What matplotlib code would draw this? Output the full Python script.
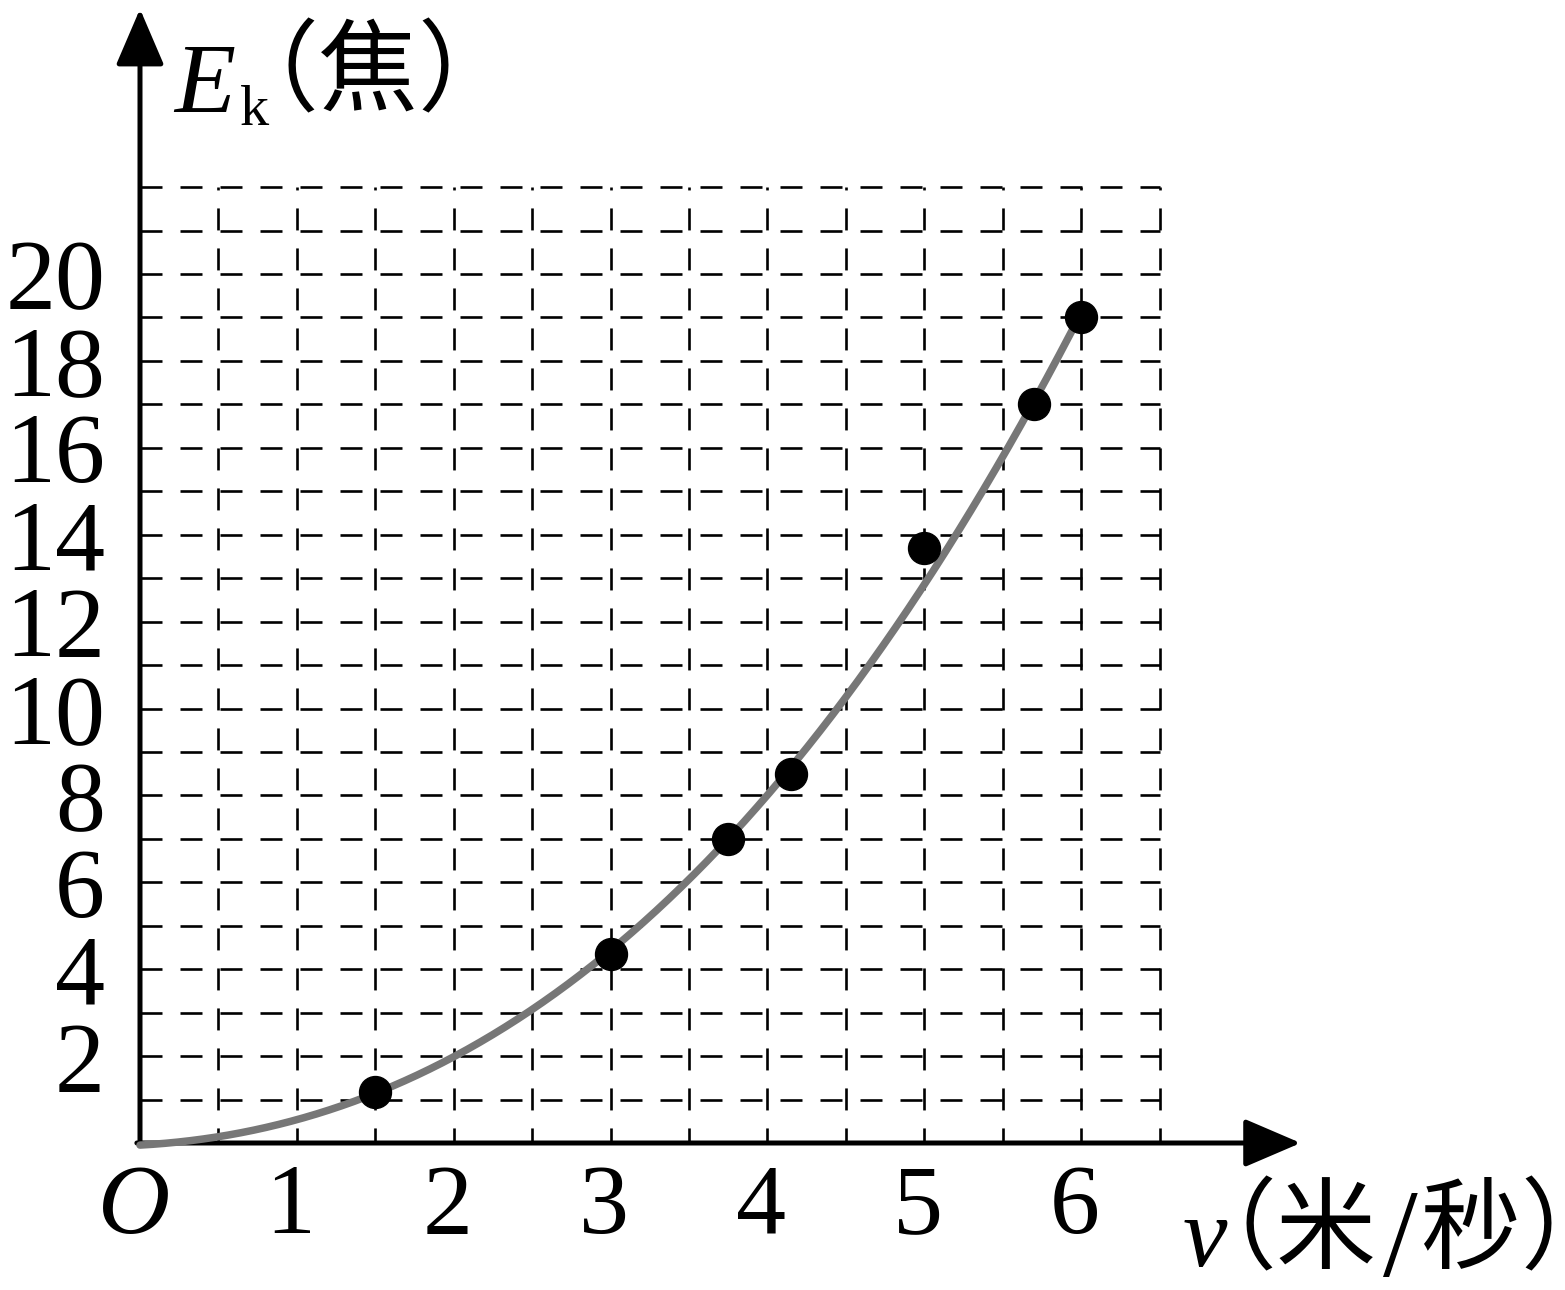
import numpy as np
import matplotlib
matplotlib.use("Agg")
import matplotlib.pyplot as plt

plt.rcParams['lines.scale_dashes'] = False

# ---- data ----
v_pts = [1.5, 3.0, 3.75, 4.15, 5.0, 5.7, 6.0]
ek_pts = [1.18, 4.35, 7.0, 8.5, 13.7, 17.0, 19.0]

# fitted curve
v_curve = [0, 0.5, 1.0, 1.5, 2.0, 2.5, 3.0, 3.5, 4.0, 4.5, 5.0, 5.5, 6.0]
ek_curve = [0, 0.1, 0.42, 1.17, 2.1, 3.2, 4.4, 5.95, 7.9, 10.2, 13.0, 15.9, 19.0]

x_ticks = [1, 2, 3, 4, 5, 6]
y_ticks = [2, 4, 6, 8, 10, 12, 14, 16, 18, 20]

W, H = 1565, 1290
fig = plt.figure(figsize=(W / 100, H / 100), dpi=100)
ax = fig.add_axes([0, 0, 1, 1])
ax.set_axis_off()

# pixel mapping: origin (140,1143), 156.85 px per 1 m/s, 43.45 px per 1 J
X0, Y0, SX, SY = 140, 1143, 156.85, 43.45
ax.set_xlim(-X0 / SX, (W - X0) / SX)
ax.set_ylim(-(H - Y0) / SY, Y0 / SY)

def px(x, y):
    return x / W, 1 - y / H

serif = ['Liberation Serif', 'Noto Sans CJK SC']
cjk = ['Noto Sans CJK SC', 'Liberation Serif']

# grid (dash 22px, gap 18px)
gx = np.arange(0.5, 6.51, 0.5)
gy = np.arange(1, 22.1, 1)
ax.hlines(gy, 0, 6.5, colors='black', linewidth=1.9,
          linestyles=[(0.0, (15.84, 12.96))], zorder=1)
ax.vlines(gx, 0, 22, colors='black', linewidth=1.9,
          linestyles=[(5.0, (15.84, 12.96))], zorder=1)

# axes with arrows
arrow = dict(arrowstyle='-|>,head_length=0.7,head_width=0.3', lw=3.6,
             color='black', shrinkA=0, shrinkB=0, mutation_scale=50)
ax.annotate('', xy=(7.40, 0), xytext=(-0.02, 0), arrowprops=arrow, zorder=3)
ax.annotate('', xy=(0, 26.1), xytext=(0, -0.05), arrowprops=arrow, zorder=3)

# fitted curve
coef = np.polyfit(v_curve, ek_curve, 3)
vv = np.linspace(0, 6.0, 300)
ax.plot(vv, np.polyval(coef, vv), color='#777777', lw=5.4,
        solid_capstyle='round', zorder=4)

# data points
ax.plot(v_pts, ek_pts, 'o', color='black', markersize=23, zorder=5)

# tick labels
for t in y_ticks:
    ax.text(-0.223, t, str(t), ha='right', va='center_baseline',
            fontsize=72, family=serif)
for t in x_ticks:
    ax.text(t - 0.04, -1.27, str(t), ha='center', va='center_baseline',
            fontsize=72, family=serif)
ax.text(-0.04, -1.27, 'O', ha='center', va='center_baseline',
        fontsize=72, family=serif, style='italic')

# axis labels
fig.text(*px(174, 112), 'E', fontsize=72, family=serif, style='italic',
         ha='left', va='baseline')
fig.text(*px(240, 125), 'k', fontsize=42, family=serif,
         ha='left', va='baseline')
fig.text(*px(368, 75), '（焦）', fontsize=72, family=cjk,
         ha='center', va='center')

fig.text(*px(1183, 1266), 'v', fontsize=72, family=serif, style='italic',
         ha='left', va='baseline')
fig.text(*px(1276, 1233), '（米', fontsize=72, family=cjk,
         ha='center', va='center')
fig.text(*px(1400, 1276), '/', fontsize=90, family=serif,
         ha='center', va='baseline')
fig.text(*px(1521, 1233), '秒）', fontsize=72, family=cjk,
         ha='center', va='center')

fig.savefig('out.png', dpi=100)
